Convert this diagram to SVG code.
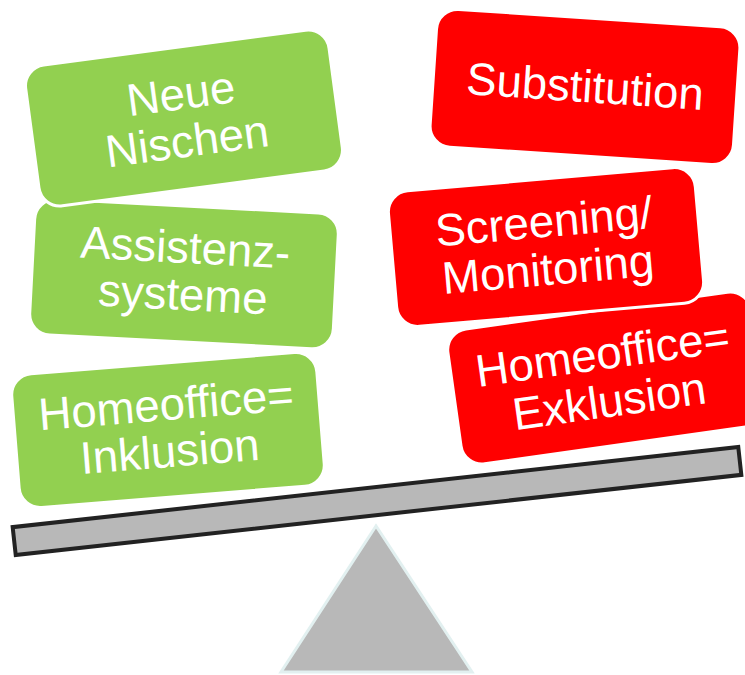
<svg xmlns="http://www.w3.org/2000/svg" width="745" height="675" viewBox="0 0 745 675">
<style>
.g{fill:#92d050;stroke:#fff;stroke-width:3}
.r{fill:#ff0000;stroke:#fff;stroke-width:3}
.t{font-family:"Liberation Sans",Arial,sans-serif;font-size:45.5px;fill:#fff;text-anchor:middle}
</style>
<rect width="745" height="675" fill="#fff"/>
<g id="fulcrum">
<polygon points="376,526 281,672 472,672" fill="#b8b8b8" stroke="#e2f0f0" stroke-width="3"/>
</g>
<g id="beam" transform="translate(377,501) rotate(-6.3)">
<rect x="-365" y="-14" width="730" height="28" fill="#b8b8b8" stroke="#222" stroke-width="4"/>
</g>
<g id="homeoffice-inklusion" transform="translate(168,430) rotate(-4.6)">
<rect class="g" x="-153" y="-67" width="306" height="134" rx="21"/>
<text class="t"><tspan x="0" y="-10">Homeoffice=</tspan><tspan x="0" y="37">Inklusion</tspan></text>
</g>
<g id="assistenzsysteme" transform="translate(184,274) rotate(3)">
<rect class="g" x="-152" y="-68" width="304" height="136" rx="21"/>
<text class="t"><tspan x="0" y="-11">Assistenz-</tspan><tspan x="0" y="36">systeme</tspan></text>
</g>
<g id="neue-nischen" transform="translate(184,118) rotate(-7.6)">
<rect class="g" x="-153" y="-71" width="306" height="142" rx="21"/>
<text class="t"><tspan x="0" y="-9">Neue</tspan><tspan x="0" y="39">Nischen</tspan></text>
</g>
<g id="homeoffice-exklusion" transform="translate(606,378) rotate(-8)">
<rect class="r" x="-153" y="-68" width="306" height="136" rx="21"/>
<text class="t"><tspan x="0" y="-9">Homeoffice=</tspan><tspan x="0" y="39">Exklusion</tspan></text>
</g>
<g id="screening-monitoring" transform="translate(546,247) rotate(-5)">
<rect class="r" x="-154" y="-68" width="308" height="136" rx="21"/>
<text class="t"><tspan x="0" y="-10">Screening/</tspan><tspan x="0" y="38">Monitoring</tspan></text>
</g>
<g id="substitution" transform="translate(585,87) rotate(3.8)">
<rect class="r" x="-152" y="-69" width="304" height="138" rx="21"/>
<text class="t" x="0" y="15">Substitution</text>
</g>
</svg>
